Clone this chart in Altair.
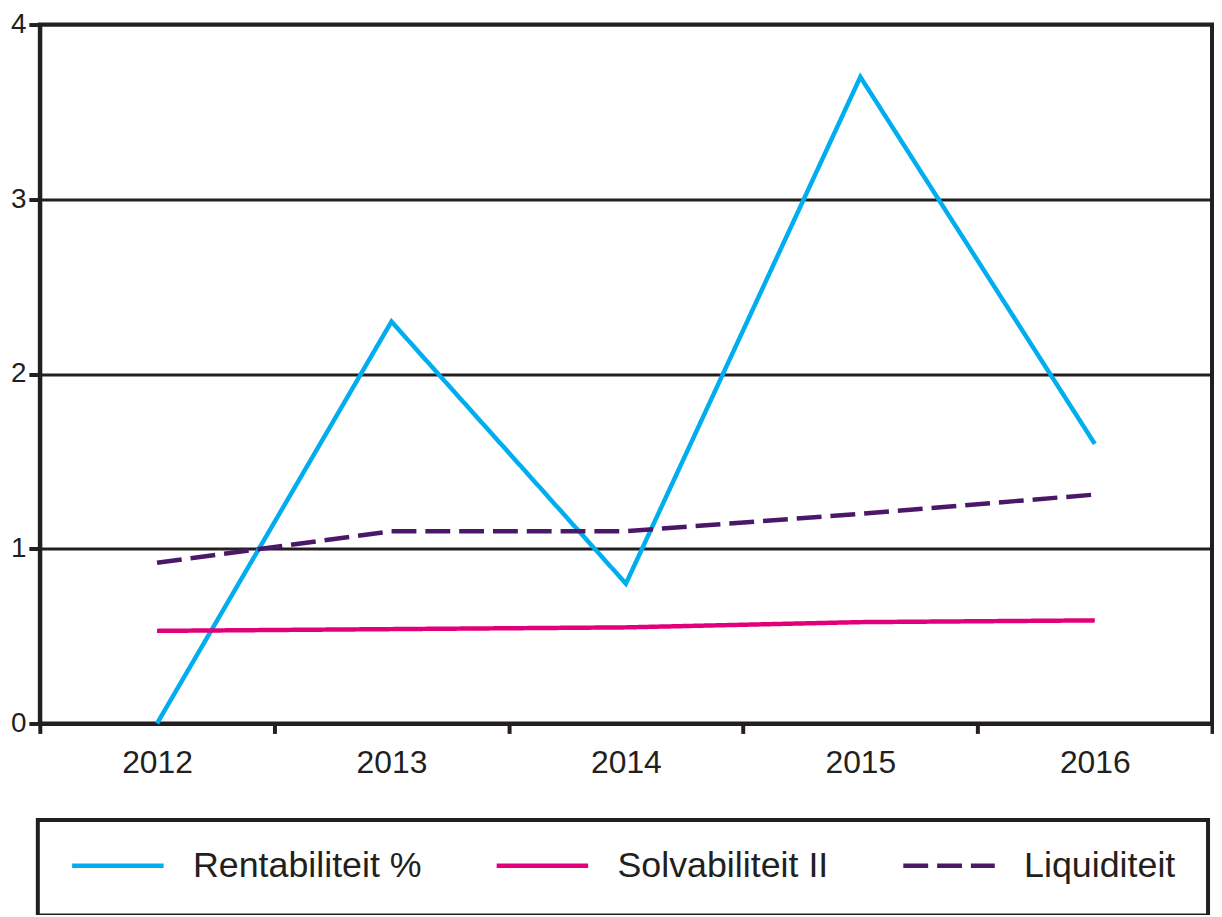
import altair as alt
import pandas as pd

years = ["2012", "2013", "2014", "2015", "2016"]
series_names = ["Rentabiliteit %", "Solvabiliteit II", "Liquiditeit"]
rentabiliteit = [0.0, 2.3, 0.8, 3.7, 1.6]
solvabiliteit = [0.53, 0.54, 0.55, 0.58, 0.59]
liquiditeit = [0.92, 1.10, 1.10, 1.20, 1.31]
colors = ["#00AEEF", "#E2007A", "#4B1869"]
dashes = [[1, 0], [1, 0], [25, 9]]

rows = []
for name, vals in zip(series_names, [rentabiliteit, solvabiliteit, liquiditeit]):
    for y, v in zip(years, vals):
        rows.append({"year": y, "value": v, "series": name})
df = pd.DataFrame(rows)

FONT = "Liberation Sans"
INK = "#231F20"

chart = alt.Chart(df).mark_line(strokeWidth=4.5, strokeCap="butt").encode(
    x=alt.X("year:O", bandPosition=0.5,
            scale=alt.Scale(type="band", paddingInner=0, paddingOuter=0),
            axis=alt.Axis(title=None, labelAngle=0, tickBand="extent", tickSize=10,
                          tickWidth=4, tickColor=INK, domainColor=INK, domainWidth=4,
                          labelFontSize=32, labelFont=FONT, labelColor=INK,
                          labelPadding=14, grid=False)),
    y=alt.Y("value:Q", scale=alt.Scale(domain=[0, 4], nice=False),
            axis=alt.Axis(title=None, values=[0, 1, 2, 3, 4], tickSize=11, tickWidth=4,
                          tickColor=INK, domainColor=INK, domainWidth=4,
                          labelFontSize=28, labelFont=FONT, labelColor=INK,
                          labelPadding=3, grid=True, gridColor=INK, gridWidth=3,
                          gridOpacity=1)),
    color=alt.Color("series:N", scale=alt.Scale(domain=series_names, range=colors),
                    legend=alt.Legend(title=None, orient="none", direction="horizontal",
                                      legendX=-2, legendY=800, columns=3,
                                      symbolType="stroke", symbolSize=8464,
                                      symbolStrokeWidth=4.5, labelFontSize=36,
                                      labelFont=FONT, labelColor=INK, labelOffset=27,
                                      columnPadding=72, padding=32, clipHeight=28,
                                      strokeColor=INK, labelLimit=400)),
    strokeDash=alt.StrokeDash("series:N", scale=alt.Scale(domain=series_names, range=dashes),
                              legend=None),
).properties(
    width=1179, height=703,
    autosize=alt.AutoSizeParams(type="none"),
    padding={"left": 32, "top": 14, "right": 2, "bottom": 190},
).configure_view(
    stroke=INK, strokeWidth=4
).configure_legend(
    strokeWidth=4
)

chart.save("out.html", embed_options={"renderer": "svg", "actions": False})
